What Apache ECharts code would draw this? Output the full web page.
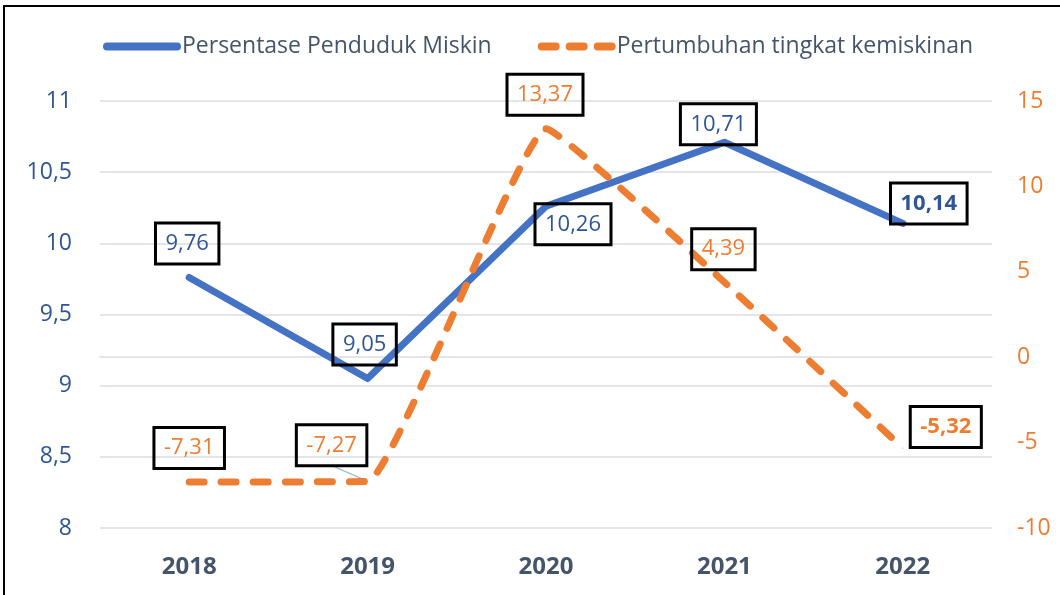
<!DOCTYPE html>
<html>
<head>
<meta charset="utf-8">
<script src="https://cdn.jsdelivr.net/npm/echarts@6/dist/echarts.min.js"></script>
<style>
html, body { margin: 0; padding: 0; background: #fff; }
#chart { width: 1060px; height: 595px; }
</style>
</head>
<body>
<div id="chart"></div>
<script>
// Data
const years = ['2018', '2019', '2020', '2021', '2022'];
const persentase = [9.76, 9.05, 10.26, 10.71, 10.14];
const pertumbuhan = [-7.31, -7.27, 13.37, 4.39, -5.32];

// Label box shifts from each point (px)
const blueShift = [[-2, -34], [-3, -34], [27, 18], [-6, -18], [26, -20]];
const orangeShift = [[0, -34], [-36, -36], [-1, -34], [-1, -33], [43, -21]];

const FONT = 'Open Sans';
const BLUE = '#4472C4';
const BLUE_TEXT = '#2F5597';
const ORANGE = '#ED7D31';
const GRID = '#D9DDE3';
const DASH = [15, 17];

const comma = v => String(v).replace('.', ',');

const boxLabel = color => ({
  show: true,
  position: 'inside',
  color: color,
  fontFamily: FONT,
  fontSize: 22,
  lineHeight: 28,
  padding: [7, 10, 6, 10],
  borderColor: '#000',
  borderWidth: 1.5,
  backgroundColor: 'transparent',
  formatter: p => comma(p.value)
})

const chart = echarts.init(document.getElementById('chart'));

const option = {
  animation: false,
  textStyle: { fontFamily: FONT },
  legend: {
    left: 103,
    top: 35,
    padding: 0,
    itemWidth: 70,
    itemHeight: 8,
    itemGap: 46,
    textStyle: { color: '#44546A', fontSize: 23, fontFamily: FONT },
    data: [
      {
        name: 'Persentase Penduduk Miskin',
        itemStyle: { opacity: 0 },
        lineStyle: { color: BLUE, width: 8, cap: 'round' }
      },
      {
        name: 'Pertumbuhan tingkat kemiskinan',
        itemStyle: { opacity: 0 },
        lineStyle: { color: ORANGE, width: 8, type: [14, 14], cap: 'round' }
      }
    ]
  },
  grid: { left: 100, right: 68, top: 101, bottom: 67 },
  xAxis: {
    type: 'category',
    data: years,
    axisLine: { show: true, lineStyle: { color: GRID, width: 1.5 } },
    axisTick: { show: false },
    axisLabel: { color: '#44546A', fontSize: 24, fontWeight: 'bold', margin: 27, fontFamily: FONT }
  },
  yAxis: [
    {
      type: 'value',
      min: 8,
      max: 11,
      interval: 0.5,
      axisLine: { show: false },
      axisTick: { show: false },
      splitLine: { lineStyle: { color: GRID, width: 1.5 } },
      axisLabel: { color: BLUE_TEXT, fontSize: 23, margin: 28, formatter: v => comma(v), fontFamily: FONT }
    },
    {
      type: 'value',
      min: -10,
      max: 15,
      interval: 5,
      axisLine: { show: false },
      axisTick: { show: false },
      splitLine: { show: false },
      axisLabel: { color: ORANGE, fontSize: 23, margin: 25, fontFamily: FONT }
    }
  ],
  series: [
    {
      name: 'Persentase Penduduk Miskin',
      type: 'line',
      yAxisIndex: 0,
      symbol: 'circle',
      symbolSize: 1,
      itemStyle: { color: BLUE },
      lineStyle: { color: BLUE, width: 7, cap: 'round', join: 'round' },
      label: boxLabel(BLUE_TEXT),
      labelLayout: p => ({ dx: blueShift[p.dataIndex][0], dy: blueShift[p.dataIndex][1] }),
      data: persentase.map((v, i) => i === persentase.length - 1
        ? { value: v, label: { fontWeight: 'bold' } }
        : v)
    },
    {
      name: 'Pertumbuhan tingkat kemiskinan',
      type: 'line',
      yAxisIndex: 1,
      smooth: 0.1,
      symbol: 'circle',
      symbolSize: 1,
      itemStyle: { color: ORANGE },
      lineStyle: { color: ORANGE, width: 7, type: DASH, cap: 'round', join: 'round' },
      label: boxLabel(ORANGE),
      labelLayout: p => ({ dx: orangeShift[p.dataIndex][0], dy: orangeShift[p.dataIndex][1] }),
      data: pertumbuhan.map((v, i) => i === pertumbuhan.length - 1
        ? { value: v, label: { fontWeight: 'bold' } }
        : v)
    }
  ]
};

chart.setOption(option);

// Chart frame and the leader line of the 2019 growth label
const pt = chart.convertToPixel({ xAxisIndex: 0, yAxisIndex: 1 }, [years[1], pertumbuhan[1]]);
chart.setOption({
  graphic: [
    {
      type: 'rect',
      shape: { x: 4, y: 6, width: 1200, height: 700 },
      style: { fill: 'none', stroke: '#000', lineWidth: 2 },
      z: 100
    },
    {
      type: 'line',
      shape: {
        x1: pt[0] + orangeShift[1][0] + 2, y1: pt[1] + orangeShift[1][1] + 21,
        x2: pt[0] - 2, y2: pt[1] - 1
      },
      style: { stroke: '#A9B8CE', lineWidth: 1.2 },
      z: 1
    }
  ]
});
</script>
</body>
</html>
